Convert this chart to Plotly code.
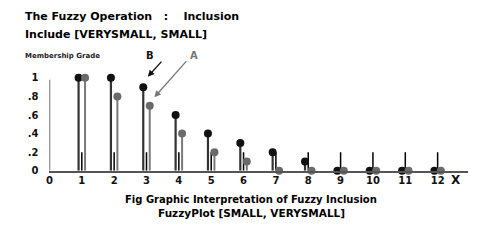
import plotly.graph_objects as go

# ---- data ----
x_vals = [1, 2, 3, 4, 5, 6, 7, 8, 9, 10, 11, 12]
b_vals = [1.0, 1.0, 0.9, 0.6, 0.4, 0.3, 0.2, 0.1, 0, 0, 0, 0]   # B (black)
a_vals = [1.0, 0.8, 0.7, 0.4, 0.2, 0.1, 0, 0, 0, 0, 0, 0]       # A (gray)
ref_height = 0.2
x_ticks = list(range(0, 13))
x_ticktext = [str(v) for v in x_ticks]
y_ticks = [0, 0.2, 0.4, 0.6, 0.8, 1.0]
y_ticktext = ["0", ".2", ".4", ".6", ".8", "1"]

W, H = 483, 245
FONT = "DejaVu Sans"
off = 0.1

def stems(xs, ys, dx):
    sx, sy = [], []
    for x, y in zip(xs, ys):
        if y > 0:
            sx += [x + dx, x + dx, None]
            sy += [0, y, None]
    return sx, sy

fig = go.Figure()

# reference ticks at height 0.2
rx, ry = [], []
for x in x_vals:
    rx += [x, x, None]
    ry += [0, ref_height, None]
fig.add_trace(go.Scatter(x=rx, y=ry, mode="lines", line=dict(color="#000", width=1.5),
                         hoverinfo="skip", cliponaxis=False))

bx, by = stems(x_vals, b_vals, -off)
fig.add_trace(go.Scatter(x=bx, y=by, mode="lines", line=dict(color="#333", width=2.2),
                         hoverinfo="skip", cliponaxis=False))
ax_, ay_ = stems(x_vals, a_vals, off)
fig.add_trace(go.Scatter(x=ax_, y=ay_, mode="lines", line=dict(color="#7a7a7a", width=2),
                         hoverinfo="skip", cliponaxis=False))

fig.add_trace(go.Scatter(x=[x - off for x in x_vals], y=b_vals, mode="markers",
                         marker=dict(color="#111", size=8), cliponaxis=False, name="B"))
fig.add_trace(go.Scatter(x=[x + off for x in x_vals], y=a_vals, mode="markers",
                         marker=dict(color="#6a6a6a", size=8), cliponaxis=False, name="A"))

# y axis line from 0 to 1
fig.add_shape(type="line", x0=0, x1=0, y0=0, y1=0.98, xref="x", yref="y",
              line=dict(color="#444", width=1.5))

x0px, x1px = 46.75, 467.7
y0px, ytop = 174.3, 60.5

fig.update_layout(
    width=W, height=H, margin=dict(l=0, r=0, t=0, b=0),
    paper_bgcolor="white", plot_bgcolor="white", showlegend=False,
    font=dict(family=FONT, color="#000"),
    xaxis=dict(range=[0, (x1px - x0px) / 32.55], domain=[x0px / W, x1px / W],
               showgrid=False, zeroline=False, showline=True, linecolor="#555", linewidth=1.5,
               tickvals=x_ticks, ticktext=x_ticktext, ticks="", ticklabelstandoff=0,
               tickfont=dict(family=FONT, size=10, color="#111", weight="bold"), fixedrange=True),
    yaxis=dict(range=[0, 1.2], domain=[(H - y0px) / H, (H - ytop) / H],
               showgrid=False, zeroline=False, showline=False,
               tickvals=y_ticks, ticktext=y_ticktext, ticks="", ticklabelstandoff=10,
               tickfont=dict(family=FONT, size=10, color="#111", weight="bold"), fixedrange=True),
)

def txt(x, y, s, size, color="#000", xanchor="left"):
    fig.add_annotation(x=x / W, y=1 - y / H, xref="paper", yref="paper", text=s,
                       showarrow=False, xanchor=xanchor, yanchor="middle",
                       font=dict(family=FONT, size=size, color=color, weight="bold"))

txt(20, 17, "The Fuzzy Operation&nbsp;&nbsp;&nbsp;:&nbsp;&nbsp;&nbsp;&nbsp;Inclusion", 11)
txt(20, 35, "Include [VERYSMALL, SMALL]", 11)
txt(20, 57, "Membership Grade", 7, "#222")
txt(148, 57, "B", 10, "#111", "center")
txt(192, 57, "A", 10, "#777", "center")
txt(456, 184, "X", 12, "#111", "center")
txt(250, 204, "Fig Graphic Interpretation of Fuzzy Inclusion", 10, "#000", "center")
txt(250, 217, "FuzzyPlot [SMALL, VERYSMALL]", 10.5, "#000", "center")

def arrow(hx, hy, tx, ty, color):
    fig.add_annotation(x=hx / W, y=1 - hy / H, xref="paper", yref="paper",
                       ax=tx - hx, ay=ty - hy, axref="pixel", ayref="pixel",
                       text="", showarrow=True, arrowhead=2, arrowsize=1, arrowwidth=1.3,
                       arrowcolor=color)

arrow(145.7, 78.3, 160.7, 61.7, "#111")
arrow(152.3, 99.3, 185.7, 61.7, "#777")

fig.write_html("out.html")
